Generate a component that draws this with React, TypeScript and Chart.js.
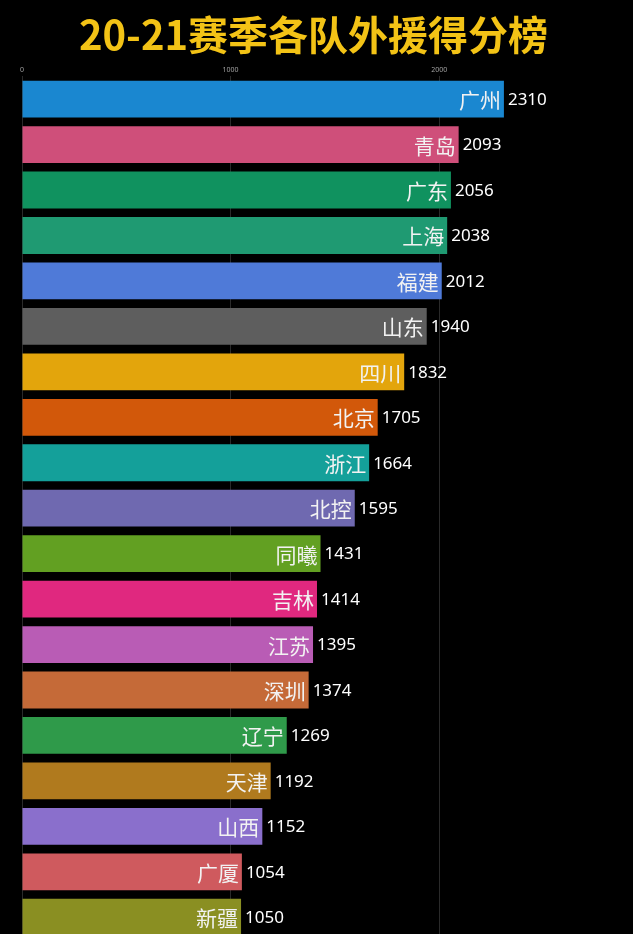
import React, { useEffect, useRef } from "react";
import { Chart, registerables } from "chart.js";

Chart.register(...registerables);

const titleText = "20-21赛季各队外援得分榜";
const teams = ["广州", "青岛", "广东", "上海", "福建", "山东", "四川", "北京", "浙江", "北控", "同曦", "吉林", "江苏", "深圳", "辽宁", "天津", "山西", "广厦", "新疆"];
const points = [2310, 2093, 2056, 2038, 2012, 1940, 1832, 1705, 1664, 1595, 1431, 1414, 1395, 1374, 1269, 1192, 1152, 1054, 1050];
const barColors = ["#1a87d0", "#cf4f7a", "#10925f", "#1f9a72", "#4f7ad8", "#5e5e5e", "#e3a50c", "#d2580a", "#14a09a", "#6f69b0", "#62a022", "#e0287f", "#b95cb5", "#c56a38", "#2f9a4a", "#b07a1e", "#8a6fcc", "#cf5a5e", "#8a8f22"];
const tickValues = [0, 1000, 2000];

const labelPlugin = {
  id: "barLabels",
  afterDatasetsDraw(chart: any) {
    const ctx = chart.ctx;
    const meta = chart.getDatasetMeta(0);
    meta.data.forEach((bar: any, i: number) => {
      const { x, y } = bar.getProps(["x", "y"], true);
      ctx.save();
      ctx.fillStyle = "#f2f2f2";
      ctx.textBaseline = "middle";
      ctx.font = 'normal 21px "Noto Sans CJK SC"';
      ctx.textAlign = "right";
      ctx.fillText(teams[i], x - 3, y + 1);
      ctx.fillStyle = "#ffffff";
      ctx.font = '17px "Noto Sans"';
      ctx.textAlign = "left";
      ctx.fillText(String(points[i]), x + 4, y + 1);
      ctx.restore();
    });
  },
};

export default function App() {
  const ref = useRef<HTMLCanvasElement>(null);
  useEffect(() => {
    document.body.style.margin = "0";
    document.body.style.background = "#000";
    const chart = new Chart(ref.current!, {
      type: "bar",
      data: {
        labels: teams,
        datasets: [
          {
            data: points,
            backgroundColor: barColors,
            borderWidth: 0,
            barPercentage: 0.81,
            categoryPercentage: 1,
          },
        ],
      },
      options: {
        indexAxis: "y",
        animation: false,
        responsive: true,
        maintainAspectRatio: false,
        layout: { padding: { left: 0, right: 6, top: 0, bottom: 0 } },
        plugins: {
          legend: { display: false },
          tooltip: { enabled: false },
          title: {
            display: true,
            text: titleText,
            color: "#f3c316",
            font: { family: '"Noto Sans CJK SC"', size: 40, weight: "bold", lineHeight: 1.2 },
            padding: { top: 11, bottom: 5 },
          },
        },
        scales: {
          x: {
            position: "top",
            min: 0,
            max: 2900,
            afterBuildTicks: (scale: any) => {
              scale.ticks = tickValues.map((v) => ({ value: v }));
            },
            grid: { color: "#2a2a2a", lineWidth: 1, drawTicks: false },
            border: { display: false },
            ticks: {
              color: "#a0a0a0",
              font: { size: 7, family: '"Noto Sans"' },
              padding: 2,
              callback: (v: any) => String(v),
            },
          },
          y: {
            display: true,
            grid: { display: false, drawTicks: false },
            border: { display: false },
            ticks: { display: false },
            afterFit: (scale: any) => {
              scale.width = 22;
            },
          },
        },
      },
      plugins: [labelPlugin],
    });
    return () => chart.destroy();
  }, []);
  return (
    <div style={{ width: 633, height: 940, background: "#000", position: "relative" }}>
      <canvas ref={ref} />
    </div>
  );
}
